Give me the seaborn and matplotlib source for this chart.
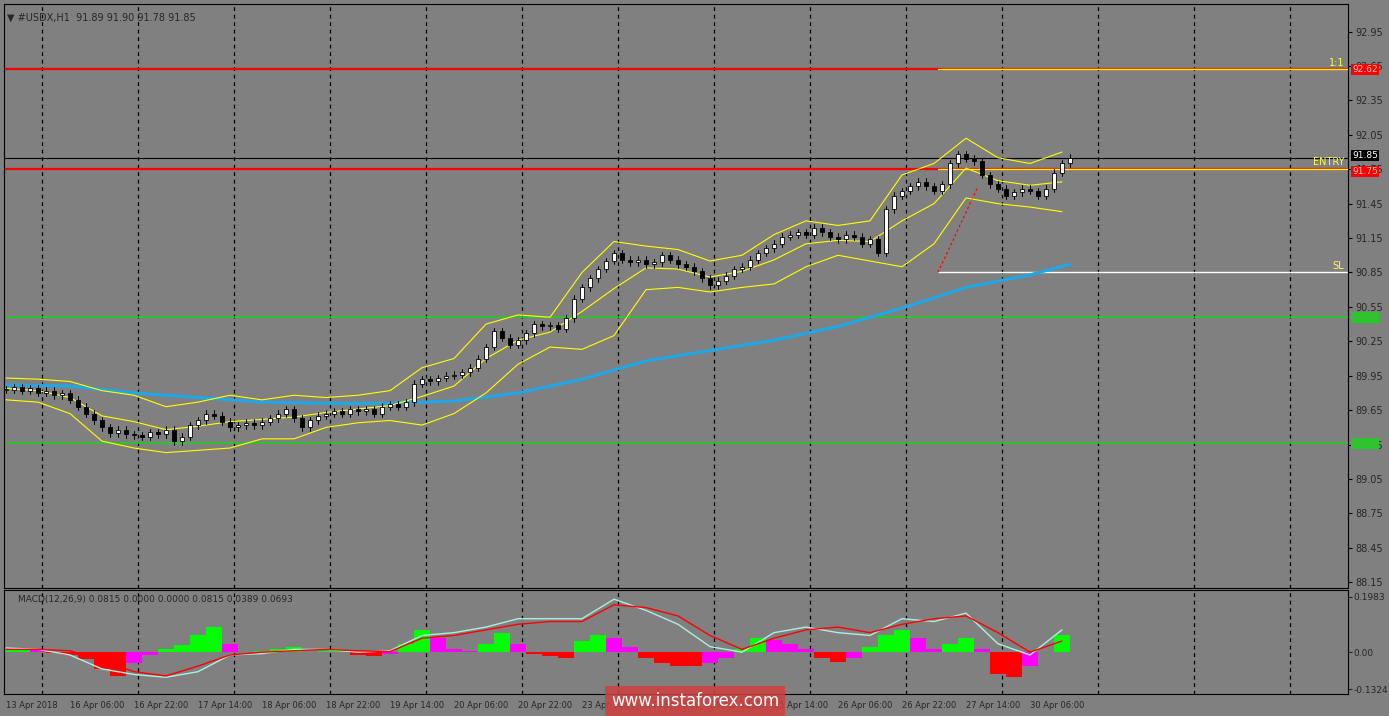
import numpy as np
import matplotlib
matplotlib.use('Agg')
import matplotlib.pyplot as plt
import seaborn as sns

sns.set_style('white')
plt.rcParams['font.family'] = ['DejaVu Sans']

# closes, one per 2 hourly bars (bar 0 .. 266)
closes = [89.83, 89.85, 89.82, 89.84, 89.80, 89.82, 89.78, 89.80, 89.74, 89.68,
          89.62, 89.56, 89.50, 89.45, 89.48, 89.44, 89.43, 89.42, 89.46, 89.44,
          89.48, 89.38, 89.42, 89.52, 89.56, 89.62, 89.60, 89.55, 89.50, 89.52,
          89.54, 89.52, 89.55, 89.58, 89.62, 89.66, 89.58, 89.50, 89.56, 89.60,
          89.62, 89.64, 89.62, 89.66, 89.64, 89.66, 89.62, 89.68, 89.70, 89.68,
          89.72, 89.88, 89.92, 89.90, 89.93, 89.95, 89.96, 89.98, 90.02, 90.10,
          90.20, 90.34, 90.28, 90.22, 90.26, 90.32, 90.40, 90.38, 90.39, 90.36,
          90.45, 90.62, 90.72, 90.80, 90.88, 90.95, 91.02, 90.96, 90.94, 90.96,
          90.92, 90.94, 91.00, 90.96, 90.92, 90.90, 90.86, 90.80, 90.74, 90.78,
          90.82, 90.88, 90.90, 90.96, 91.02, 91.06, 91.10, 91.16, 91.18, 91.20,
          91.18, 91.24, 91.20, 91.16, 91.14, 91.18, 91.16, 91.10, 91.14, 91.02,
          91.40, 91.52, 91.56, 91.60, 91.64, 91.60, 91.56, 91.62, 91.80, 91.88,
          91.84, 91.82, 91.70, 91.62, 91.58, 91.52, 91.55, 91.58, 91.56, 91.52,
          91.58, 91.72, 91.80, 91.85]

# bollinger bands, every 8 bars
bb_upper = [89.93, 89.92, 89.90, 89.82, 89.78, 89.68, 89.72, 89.78, 89.74, 89.78,
            89.76, 89.78, 89.82, 90.02, 90.10, 90.40, 90.48, 90.46, 90.85, 91.12,
            91.08, 91.05, 90.95, 91.00, 91.18, 91.30, 91.26, 91.30, 91.70, 91.80,
            92.02, 91.85, 91.80, 91.90]
bb_lower = [89.74, 89.72, 89.62, 89.38, 89.32, 89.28, 89.30, 89.32, 89.40, 89.40,
            89.50, 89.54, 89.56, 89.52, 89.62, 89.80, 90.05, 90.20, 90.18, 90.30,
            90.70, 90.72, 90.68, 90.72, 90.75, 90.90, 91.00, 90.95, 90.90, 91.10,
            91.50, 91.45, 91.42, 91.38]
bb_mid = [89.84, 89.82, 89.76, 89.60, 89.55, 89.48, 89.51, 89.55, 89.57, 89.59,
          89.63, 89.66, 89.69, 89.77, 89.86, 90.10, 90.26, 90.33, 90.51, 90.71,
          90.89, 90.88, 90.81, 90.86, 90.96, 91.10, 91.13, 91.12, 91.30, 91.45,
          91.76, 91.65, 91.61, 91.64]

# long moving average
ma_bars = [0, 16, 32, 48, 64, 80, 96, 112, 128, 144, 160, 176, 192, 208, 224, 240, 256, 266]
ma_vals = [89.87, 89.86, 89.80, 89.76, 89.72, 89.71, 89.71, 89.73, 89.80, 89.92,
           90.08, 90.17, 90.26, 90.38, 90.54, 90.72, 90.83, 90.92]

# MACD histogram, every 4 bars
macd_hist = [0.01, 0.01, 0.008, -0.003, -0.01, -0.025, -0.06, -0.085, -0.04, -0.01,
             0.01, 0.025, 0.06, 0.09, 0.03, 0.0, 0.005, 0.012, 0.02, 0.0,
             0.003, 0.005, -0.01, -0.012, -0.005, 0.03, 0.08, 0.05, 0.01, 0.005,
             0.03, 0.07, 0.03, -0.005, -0.015, -0.02, 0.04, 0.06, 0.05, 0.02,
             -0.02, -0.04, -0.05, -0.05, -0.04, -0.02, 0.01, 0.05, 0.045, 0.03,
             0.01, -0.02, -0.035, -0.02, 0.02, 0.06, 0.08, 0.05, 0.01, 0.03,
             0.05, 0.01, -0.08, -0.09, -0.05, 0.0, 0.06]
# MACD lines, every 8 bars
macd_main = [0.015, 0.01, -0.01, -0.06, -0.08, -0.09, -0.07, -0.01, -0.005, 0.01,
             0.01, 0.0, 0.005, 0.06, 0.07, 0.09, 0.12, 0.12, 0.12, 0.19,
             0.15, 0.10, 0.02, 0.0, 0.07, 0.09, 0.07, 0.06, 0.12, 0.11,
             0.14, 0.03, -0.01, 0.08]
macd_signal = [0.01, 0.01, 0.005, -0.03, -0.07, -0.085, -0.05, -0.01, 0.0, 0.005,
               0.01, 0.005, 0.002, 0.05, 0.06, 0.08, 0.10, 0.11, 0.11, 0.17,
               0.16, 0.13, 0.06, 0.01, 0.05, 0.08, 0.09, 0.07, 0.10, 0.12,
               0.13, 0.07, 0.0, 0.04]

time_labels = ['13 Apr 2018', '16 Apr 06:00', '16 Apr 22:00', '17 Apr 14:00', '18 Apr 06:00',
               '18 Apr 22:00', '19 Apr 14:00', '20 Apr 06:00', '20 Apr 22:00', '23 Apr 14:00',
               '24 Apr 06:00', '24 Apr 22:00', '25 Apr 14:00', '26 Apr 06:00', '26 Apr 22:00',
               '27 Apr 14:00', '30 Apr 06:00']
price_ticks = [92.95, 92.65, 92.35, 92.05, 91.75, 91.45, 91.15, 90.85, 90.55, 90.25,
               89.95, 89.65, 89.35, 89.05, 88.75, 88.45, 88.15]
levels = {'tp': 92.62, 'entry': 91.75, 'sl': 90.85, 'g1': 90.46, 'g2': 89.36, 'last': 91.85}

BG = '#808080'
W, H = 1389, 716
fig = plt.figure(figsize=(W / 100, H / 100), dpi=100, facecolor=BG)
ax = fig.add_axes([4 / W, 1 - 588 / H, 1344 / W, 584 / H], facecolor=BG)
ax2 = fig.add_axes([4 / W, 1 - 694 / H, 1344 / W, 104 / H], facecolor=BG)

XL = (-0.5, 335.5)
for a in (ax, ax2):
    a.set_xlim(*XL)
    for s in a.spines.values():
        s.set_color('black')
    for gx in range(9, 336, 24):
        a.axvline(gx, color='black', ls=(0, (3, 3)), lw=0.9, zorder=0)

ax.set_ylim(88.10, 93.19)
ax2.set_ylim(-0.150, 0.223)

# horizontal levels
ax.axhline(levels['tp'], color='red', lw=1.6)
ax.axhline(levels['entry'], color='red', lw=1.6)
ax.axhline(levels['g1'], color='#22cc22', lw=1.2)
ax.axhline(levels['g2'], color='#22cc22', lw=1.2)
ax.axhline(levels['last'], color='black', lw=0.8)
x0 = 233
for key, lab in [('tp', '1:1'), ('entry', 'ENTRY'), ('sl', 'SL')]:
    ax.plot([x0, XL[1]], [levels[key]] * 2, color='white' if key == 'sl' else '#ffff00', lw=1)
    ax.text(XL[1] - 1, levels[key] + 0.015, lab, color='#ffff44', fontsize=7, ha='right', va='bottom')
ax.plot([x0, 243], [levels['sl'], 91.60], color='red', ls=(0, (2, 2)), lw=0.9)

# moving average
sns.lineplot(x=ma_bars, y=ma_vals, ax=ax, color='#1fa8e8', lw=2.2)

# bollinger
bb_x = np.arange(0, 8 * len(bb_upper), 8)
for band in (bb_upper, bb_lower, bb_mid):
    ax.plot(bb_x, band, color='#ffff00', lw=0.8)

# candles
cx = np.arange(0, 2 * len(closes), 2)
opens = [closes[0]] + closes[:-1]
for x, o, c in zip(cx, opens, closes):
    lo, hi = min(o, c), max(o, c)
    ax.plot([x, x], [lo - 0.03, hi + 0.03], color='black', lw=0.7, zorder=3)
    ax.bar(x, max(hi - lo, 0.008), bottom=lo, width=1.1,
           color='white' if c >= o else 'black', edgecolor='black', lw=0.6, zorder=4)

# MACD
hx = np.arange(0, 4 * len(macd_hist), 4)
prev = [macd_hist[0]] + macd_hist[:-1]
cols = []
for v, p in zip(macd_hist, prev):
    if v >= 0:
        cols.append('#00ff00' if v >= p else '#ff00ff')
    else:
        cols.append('#ff0000' if v <= p else '#ff00ff')
ax2.bar(hx, macd_hist, width=4, color=cols, lw=0)
mx = np.arange(0, 8 * len(macd_main), 8)
ax2.plot(mx, macd_main, color='#aaf0e0', lw=1)
ax2.plot(mx, macd_signal, color='red', lw=1)
ax2.text(3, 0.19, 'MACD(12,26,9) 0.0815 0.0000 0.0000 0.0815 0.0389 0.0693',
         fontsize=6.5, va='center')

# axes ticks
ax.set_xticks([])
ax.yaxis.tick_right()
ax.set_yticks(price_ticks)
ax.set_yticklabels([f'{t:.2f}' for t in price_ticks])
ax.tick_params(axis='y', labelsize=7, length=3, color='black', pad=2)
ax2.yaxis.tick_right()
ax2.set_yticks([0.1983, 0.0, -0.1324])
ax2.set_yticklabels(['0.1983', '0.00', '-0.1324'])
ax2.tick_params(axis='y', labelsize=6.5, length=3, pad=1)
ax2.set_xticks(np.arange(0, 16 * len(time_labels), 16))
ax2.set_xticklabels(time_labels, ha='left')
ax2.tick_params(axis='x', labelsize=6, length=3, pad=2)

# price boxes on the right
for key, fc, tc in [('tp', 'red', '#ffcccc'), ('entry', 'red', '#ffcccc'), ('last', 'black', 'white'),
                    ('g1', '#22cc22', '#55aa55'), ('g2', '#22cc22', '#55aa55')]:
    y = levels[key] + (0.02 if key == 'last' else (-0.02 if key == 'entry' else 0))
    ax.text(1.003, y, f'{levels[key]:.2f}', transform=ax.get_yaxis_transform(),
            fontsize=6.5, color=tc, va='center', ha='left',
            bbox=dict(boxstyle='square,pad=0.1', fc=fc, ec='none'))

ax.text(0.002, 0.985, '\u25bc #USDX,H1  91.89 91.90 91.78 91.85', transform=ax.transAxes,
        fontsize=7, va='top')

fig.text(695 / W, 1 - 701 / H, 'www.instaforex.com', fontsize=12, color='white',
         ha='center', va='center',
         bbox=dict(boxstyle='square,pad=0.35', fc='#d04040', ec='none', alpha=0.85))

fig.savefig('out.png', dpi=100, facecolor=BG)
